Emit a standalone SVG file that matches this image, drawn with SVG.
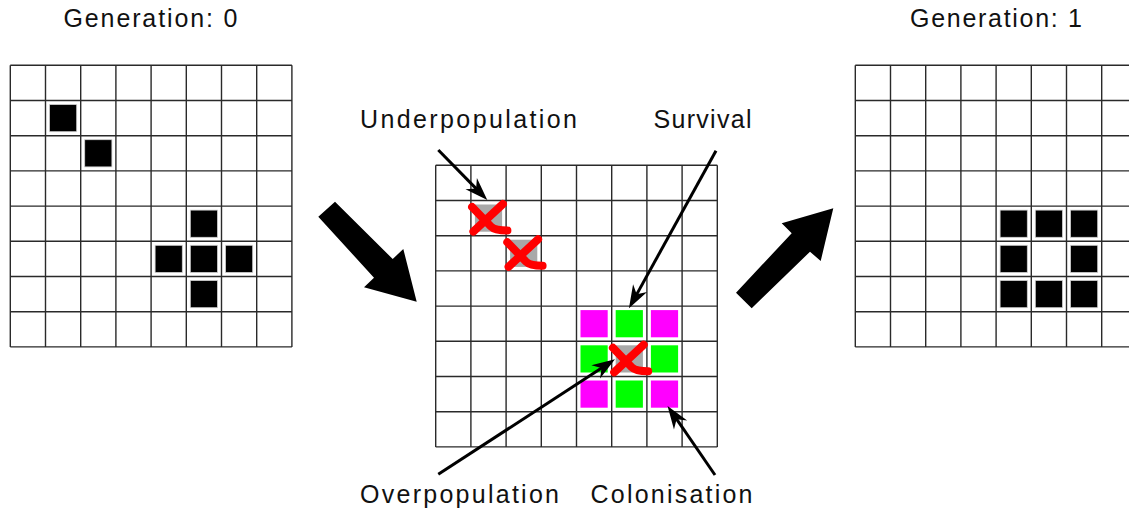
<svg xmlns="http://www.w3.org/2000/svg" xmlns:xlink="http://www.w3.org/1999/xlink" width="1129" height="510" viewBox="0 0 1129 510">
<style>
.grid{fill:none;stroke:#2a2a2a;stroke-width:1.4}
.blk{fill:#000;stroke:#d0d0d0;stroke-width:0.8}
.gry{fill:#a8a8a8}
.mag{fill:#ff00ff}
.grn{fill:#00ff00}
.x{fill:none;stroke:#ff0000;stroke-width:8;stroke-linecap:round;stroke-linejoin:round}
.lbl{font-family:"Liberation Sans",Arial,Helvetica,sans-serif;font-size:25px;fill:#111}
.thin{fill:none;stroke:#000;stroke-width:3;marker-end:url(#barb)}
.big{fill:#000}
</style>
<defs>
<path id="gridpath" class="grid" d="M0 0V281.6M35.2 0V281.6M70.4 0V281.6M105.6 0V281.6M140.8 0V281.6M176 0V281.6M211.2 0V281.6M246.4 0V281.6M281.6 0V281.6M0 0H281.6M0 35.2H281.6M0 70.4H281.6M0 105.6H281.6M0 140.8H281.6M0 176H281.6M0 211.2H281.6M0 246.4H281.6M0 281.6H281.6"/>
<g id="cross"><path class="x" d="M32 3.5L2.5 31"/><path class="x" d="M1.2 6.5L20 26Q24 30 36.5 30"/></g>
<marker id="barb" markerUnits="userSpaceOnUse" orient="auto" refX="0" refY="0" markerWidth="40" markerHeight="40" overflow="visible">
<path d="M10 0L-13 -8L-6 0L-13 8Z" fill="#000"/>
</marker>
</defs>
<rect width="1129" height="510" fill="#fff"/>

<g id="gen0-label"><text class="lbl" x="63.5" y="27.3" textLength="174" lengthAdjust="spacing">Generation: 0</text></g>
<g id="gen1-label"><text class="lbl" x="910" y="27" textLength="172" lengthAdjust="spacing">Generation: 1</text></g>

<g id="grid-gen0" transform="translate(10.3,65.3)">
<rect class="blk" x="39.2" y="39.2" width="27.2" height="27.2"/>
<rect class="blk" x="74.4" y="74.4" width="27.2" height="27.2"/>
<rect class="blk" x="180" y="144.8" width="27.2" height="27.2"/>
<rect class="blk" x="144.8" y="180" width="27.2" height="27.2"/>
<rect class="blk" x="180" y="180" width="27.2" height="27.2"/>
<rect class="blk" x="215.2" y="180" width="27.2" height="27.2"/>
<rect class="blk" x="180" y="215.2" width="27.2" height="27.2"/>
<use xlink:href="#gridpath" href="#gridpath"/>
</g>

<g id="grid-transition" transform="translate(435.7,165.3)">
<rect class="gry" x="39.2" y="39.2" width="27.2" height="27.2"/>
<rect class="gry" x="74.4" y="74.4" width="27.2" height="27.2"/>
<rect class="mag" x="144.8" y="144.8" width="27.2" height="27.2"/>
<rect class="grn" x="180" y="144.8" width="27.2" height="27.2"/>
<rect class="mag" x="215.2" y="144.8" width="27.2" height="27.2"/>
<rect class="grn" x="144.8" y="180" width="27.2" height="27.2"/>
<rect class="gry" x="180" y="180" width="27.2" height="27.2"/>
<rect class="grn" x="215.2" y="180" width="27.2" height="27.2"/>
<rect class="mag" x="144.8" y="215.2" width="27.2" height="27.2"/>
<rect class="grn" x="180" y="215.2" width="27.2" height="27.2"/>
<rect class="mag" x="215.2" y="215.2" width="27.2" height="27.2"/>
<use xlink:href="#gridpath" href="#gridpath"/>
<use xlink:href="#cross" href="#cross" x="35.2" y="35.2"/>
<use xlink:href="#cross" href="#cross" x="70.4" y="70.4"/>
<use xlink:href="#cross" href="#cross" x="176" y="176"/>
</g>

<g id="grid-gen1" transform="translate(855.3,65.3)">
<rect class="blk" x="144.8" y="144.8" width="27.2" height="27.2"/>
<rect class="blk" x="180" y="144.8" width="27.2" height="27.2"/>
<rect class="blk" x="215.2" y="144.8" width="27.2" height="27.2"/>
<rect class="blk" x="144.8" y="180" width="27.2" height="27.2"/>
<rect class="blk" x="215.2" y="180" width="27.2" height="27.2"/>
<rect class="blk" x="144.8" y="215.2" width="27.2" height="27.2"/>
<rect class="blk" x="180" y="215.2" width="27.2" height="27.2"/>
<rect class="blk" x="215.2" y="215.2" width="27.2" height="27.2"/>
<use xlink:href="#gridpath" href="#gridpath"/>
</g>

<g id="label-underpopulation"><text class="lbl" x="360" y="128.3" textLength="217" lengthAdjust="spacing">Underpopulation</text></g>
<g id="label-survival"><text class="lbl" x="653.5" y="127.7" textLength="98" lengthAdjust="spacing">Survival</text></g>
<g id="label-overpopulation"><text class="lbl" x="360" y="503.3" textLength="199" lengthAdjust="spacing">Overpopulation</text></g>
<g id="label-colonisation"><text class="lbl" x="590.5" y="503.3" textLength="162" lengthAdjust="spacing">Colonisation</text></g>

<g id="connectors">
<polygon id="big-arrow-1" class="big" points="335,201.7 392.7,259 403.3,249 416.7,301.7 364,287.3 374,277.7 318.3,216.7"/>
<polygon id="big-arrow-2" class="big" points="736,292.7 791.7,233.3 781.7,223.3 833.3,208.3 820.7,261 810,251.7 751.7,308.3"/>
<path class="thin" d="M438.3 150L480.3 192.9"/>
<path class="thin" d="M716 150.7L633.8 299.6"/>
<path class="thin" d="M438.3 474.3L606.6 364.8"/>
<path class="thin" d="M715 475L673.2 414.2"/>
</g>
</svg>
